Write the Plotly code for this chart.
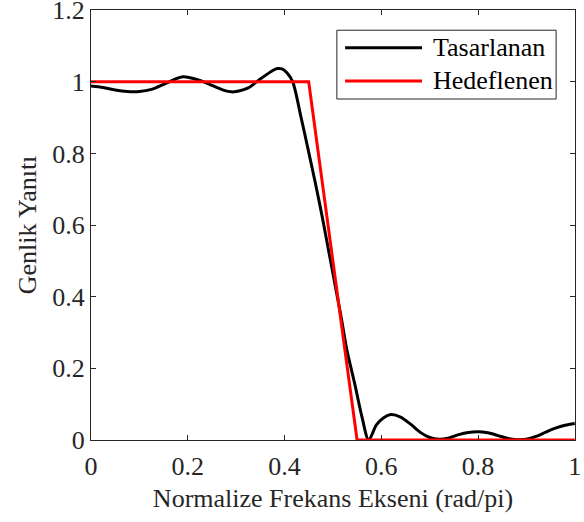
import plotly.graph_objects as go

# Normalized frequency axis (rad/pi) and magnitude response of the designed filter
freq_designed = [0.0, 0.025, 0.05, 0.075, 0.1, 0.125, 0.15, 0.175, 0.19, 0.2, 0.225, 0.25,
                 0.275, 0.29, 0.3, 0.325, 0.35, 0.375, 0.385, 0.395, 0.405, 0.417, 0.434,
                 0.449, 0.464, 0.478, 0.491, 0.504, 0.517, 0.529, 0.545, 0.56, 0.574,
                 0.59, 0.605, 0.62, 0.64, 0.66, 0.68, 0.70, 0.72, 0.74, 0.76, 0.78, 0.80,
                 0.82, 0.84, 0.86, 0.88, 0.90, 0.92, 0.94, 0.96, 0.98, 1.0]
mag_designed = [0.988, 0.984, 0.977, 0.973, 0.973, 0.979, 0.993, 1.008, 1.014, 1.013, 1.004,
                0.990, 0.976, 0.972, 0.973, 0.983, 1.008, 1.031, 1.037, 1.036, 1.025, 1.0,
                0.902, 0.81, 0.716, 0.623, 0.53, 0.437, 0.344, 0.251, 0.158, 0.065, 0.0,
                0.042, 0.062, 0.071, 0.064, 0.045, 0.022, 0.007, 0.002, 0.006, 0.015, 0.021,
                0.023, 0.02, 0.013, 0.005, 0.001, 0.002, 0.01, 0.022, 0.033, 0.041, 0.046]

# Ideal (target) low-pass response
freq_target = [0.0, 0.45, 0.55, 1.0]
mag_target = [1.0, 1.0, 0.0, 0.0]

series_names = ["Tasarlanan", "Hedeflenen"]
series_colors = ["#000000", "#ff0000"]

x_ticks = [0, 0.2, 0.4, 0.6, 0.8, 1]
x_tick_labels = ["0", "0.2", "0.4", "0.6", "0.8", "1"]
y_ticks = [0, 0.2, 0.4, 0.6, 0.8, 1, 1.2]
y_tick_labels = ["0", "0.2", "0.4", "0.6", "0.8", "1", "1.2"]

FONT = "Liberation Serif, Times New Roman, serif"
AXIS_COLOR = "#262626"
FS = 26

fig = go.Figure()
fig.add_trace(go.Scatter(x=freq_designed, y=mag_designed, mode="lines",
                         line=dict(color=series_colors[0], width=3, shape="spline", smoothing=0.8),
                         name=series_names[0], showlegend=False))
fig.add_trace(go.Scatter(x=freq_target, y=mag_target, mode="lines",
                         line=dict(color=series_colors[1], width=3),
                         name=series_names[1], showlegend=False))

axis_common = dict(
    showgrid=False, zeroline=False, showline=True, linecolor=AXIS_COLOR, linewidth=1,
    mirror="ticks", ticks="inside", ticklen=5, tickcolor=AXIS_COLOR, tickwidth=1,
    tickfont=dict(family=FONT, size=FS, color=AXIS_COLOR),
    ticklabeloverflow="allow", automargin=False,
)

fig.update_xaxes(range=[0, 1.0005], tickvals=x_ticks, ticktext=x_tick_labels,
                 ticklabelstandoff=3,
                 title=dict(text="Normalize Frekans Ekseni (rad/pi)",
                            font=dict(family=FONT, size=FS, color=AXIS_COLOR), standoff=8),
                 **axis_common)
fig.update_yaxes(range=[0, 1.2005], tickvals=y_ticks, ticktext=y_tick_labels,
                 title=dict(text="Genlik Yanıtı",
                            font=dict(family=FONT, size=FS, color=AXIS_COLOR), standoff=8),
                 **axis_common)

# Legend drawn as a framed box with line samples and labels
lx0, lx1, ly0, ly1 = 0.508, 0.961, 0.793, 0.953
rows_y = [0.912, 0.835]
shapes = [dict(type="rect", xref="paper", yref="paper", x0=lx0, x1=lx1, y0=ly0, y1=ly1,
               line=dict(color=AXIS_COLOR, width=1), fillcolor="white", layer="above")]
annotations = []
for name, color, yy in zip(series_names, series_colors, rows_y):
    shapes.append(dict(type="line", xref="paper", yref="paper", x0=0.525, x1=0.684,
                       y0=yy, y1=yy, line=dict(color=color, width=3), layer="above"))
    annotations.append(dict(xref="paper", yref="paper", x=0.702, y=yy, text=name,
                            showarrow=False, xanchor="left", yanchor="middle",
                            font=dict(family=FONT, size=FS, color="#000000")))

fig.update_layout(
    width=584, height=522,
    margin=dict(l=91, r=9, t=10, b=82, autoexpand=False),
    paper_bgcolor="white", plot_bgcolor="white",
    shapes=shapes, annotations=annotations,
    showlegend=False,
)

fig.write_html("out.html")
